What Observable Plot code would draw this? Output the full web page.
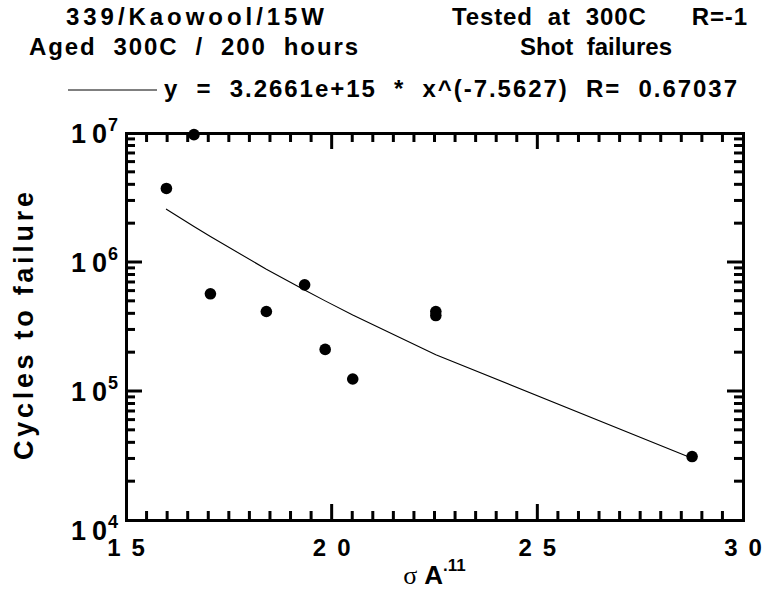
<!DOCTYPE html>
<html><head><meta charset="utf-8">
<script src="https://cdn.jsdelivr.net/npm/d3@7"></script>
<script src="https://cdn.jsdelivr.net/npm/@observablehq/plot@0.6"></script>
<style>html,body{margin:0;padding:0;background:#fff}</style>
</head><body><div id="chart"></div>
<script>
// ---- data ----
const stress = [15.97, 16.64, 17.04, 18.40, 19.33, 19.83, 20.50, 22.52, 22.52, 28.75];
const cycles = [3.75e6, 9.8e6, 5.72e5, 4.17e5, 6.71e5, 2.12e5, 1.25e5, 4.17e5, 3.88e5, 3.13e4];
// fitted power-law curve vertices (read at the data x positions)
const fitStress = [15.97, 16.64, 17.04, 18.40, 19.33, 19.83, 20.50, 22.52, 28.75];
const fitCycles = [2.59e6, 1.90e6, 1.59e6, 8.87e5, 6.12e5, 5.04e5, 3.92e5, 1.93e5, 3.04e4];

const xTickValues = [15, 20, 25, 30];
const xTickLabels = ["15", "20", "25", "30"];
const xMinorTicks = [15.5,16,16.5,17,17.5,18,18.5,19,19.5,20.5,21,21.5,22,22.5,23,23.5,24,24.5,25.5,26,26.5,27,27.5,28,28.5,29,29.5];
const xMajorInner = [20, 25];
const yTickValues = [1e4, 1e5, 1e6, 1e7];
const yTickBase = "10";
const yTickExponents = ["4", "5", "6", "7"];
const yMajorInner = [1e5, 1e6];
const yDecades = [1e4, 1e5, 1e6];
const yMinorMultipliers = [2,3,4,5,6,7,8,9];

const titleLeft = ["339/Kaowool/15W", "Aged  300C  /  200  hours"];
const titleRight = ["Tested  at  300C      R=-1", "Shot  failures"];
const legendText = "y  =  3.2661e+15  *  x^(-7.5627)  R=  0.67037";
const yTitle = "Cycles to failure";
const xTitleParts = ["σ", "A", ".11"];

const FONT = "'Liberation Sans', Arial, Helvetica, sans-serif";

const points = stress.map((x, i) => ({x, y: cycles[i]}));
const fit = fitStress.map((x, i) => ({x, y: fitCycles[i]}));

const plot = Plot.plot({
  width: 768, height: 596,
  marginLeft: 126, marginRight: 25, marginTop: 133, marginBottom: 76,
  x: {domain: [15, 30], axis: null},
  y: {type: "log", domain: [1e4, 1e7], axis: null},
  style: {background: "#fff", fontFamily: FONT},
  marks: [
    Plot.line(fit, {x: "x", y: "y", stroke: "#000", strokeWidth: 1.1}),
    Plot.dot(points, {x: "x", y: "y", r: 5.8, fill: "#000", stroke: "none"}),
    Plot.frame({stroke: "#000", strokeWidth: 3})
  ]
});
document.getElementById("chart").appendChild(plot);

const sx = plot.scale("x"), sy = plot.scale("y");
const X = v => sx.apply(v), Y = v => sy.apply(v);
const L = X(15), R = X(30), T = Y(1e7), B = Y(1e4);
const svg = d3.select(plot);
const g = svg.append("g").attr("stroke", "#000").attr("stroke-width", 3);
const MIN = 9, MAJ = 16;

function tickX(v, len) {
  g.append("line").attr("x1", X(v)).attr("x2", X(v)).attr("y1", B).attr("y2", B - len);
  g.append("line").attr("x1", X(v)).attr("x2", X(v)).attr("y1", T).attr("y2", T + len);
}
function tickY(v, len) {
  g.append("line").attr("y1", Y(v)).attr("y2", Y(v)).attr("x1", L).attr("x2", L + len);
  g.append("line").attr("y1", Y(v)).attr("y2", Y(v)).attr("x1", R).attr("x2", R - len);
}
xMinorTicks.forEach(v => tickX(v, MIN));
xMajorInner.forEach(v => tickX(v, MAJ));
yDecades.forEach(d => yMinorMultipliers.forEach(m => tickY(d * m, MIN)));
yMajorInner.forEach(v => tickY(v, MAJ));

const t = svg.append("g").attr("font-family", FONT).attr("font-weight", "bold")
  .attr("fill", "#000").attr("text-anchor", "start");

// x tick labels (digits spaced apart)
const xGap = 11;
xTickValues.forEach((v, i) => {
  const s = xTickLabels[i];
  const e = t.append("text").attr("x", X(v)).attr("y", 556)
    .attr("text-anchor", "middle").attr("font-size", 24);
  e.append("tspan").text(s[0]);
  e.append("tspan").attr("dx", xGap).text(s[1]);
});
// y tick labels: "1 0" with superscript exponent
yTickValues.forEach((v, i) => {
  const yy = Y(v) + 10 + (i === 0 ? 10 : 0);
  const tx = t.append("text").attr("x", 118).attr("y", yy)
    .attr("text-anchor", "end").attr("font-size", 27);
  tx.append("tspan").text(yTickBase[0]);
  tx.append("tspan").attr("dx", 6).text(yTickBase[1]);
  tx.append("tspan").attr("font-size", 18).attr("dx", 1).attr("dy", -12).text(yTickExponents[i]);
});

// titles
function title(str, x, y, len, anchor) {
  const e = t.append("text").attr("x", x).attr("y", y).attr("font-size", 24)
    .attr("text-anchor", anchor || "start")
    .attr("xml:space", "preserve").style("white-space", "pre").text(str);
  if (len) e.attr("textLength", len).attr("lengthAdjust", "spacing");
}
title(titleLeft[0], 66, 25, 258);
title(titleLeft[1], 29, 55, 329);
title(titleRight[0], 452, 25, 295);
title(titleRight[1], 596, 55, 0, "middle");
title(legendText, 164, 97, 573);
svg.append("line").attr("x1", 68).attr("x2", 157).attr("y1", 90).attr("y2", 90)
  .attr("stroke", "#000").attr("stroke-width", 1);

// y title
t.append("text").attr("transform", "translate(33,326) rotate(-90)")
  .attr("text-anchor", "middle").attr("font-size", 27)
  .attr("textLength", 268).attr("lengthAdjust", "spacing").text(yTitle);

// x title
const xt = t.append("text").attr("x", X(22.5)).attr("y", 584).attr("text-anchor", "middle").attr("font-size", 26);
xt.append("tspan").attr("font-family", "'Liberation Serif', 'DejaVu Serif', serif").attr("font-weight", "normal").text(xTitleParts[0]);
xt.append("tspan").attr("dx", 7).text(xTitleParts[1]);
xt.append("tspan").attr("font-size", 17).attr("dy", -13).text(xTitleParts[2]);
</script>
</body></html>
